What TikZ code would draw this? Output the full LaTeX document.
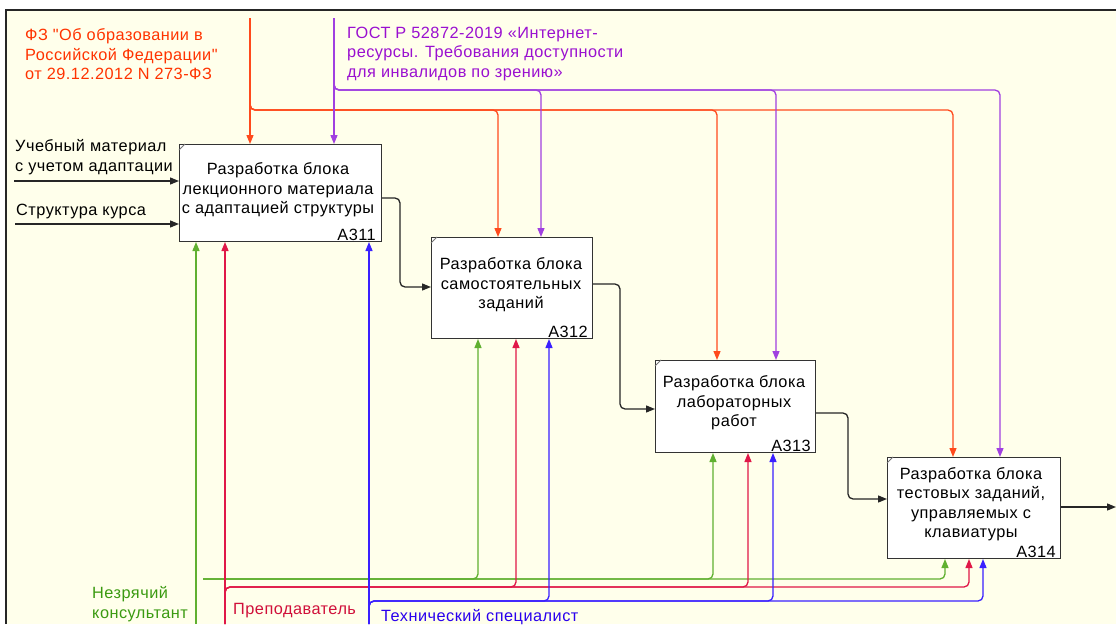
\documentclass[tikz,border=0pt]{standalone}
\usepackage{fontspec}
\newfontfamily\diagfont{Liberation Sans}[LetterSpace=3]
\usetikzlibrary{arrows.meta,calc}

\definecolor{paper}{HTML}{FFFFEB}
\definecolor{fzLine}{HTML}{FF4A1C}
\definecolor{fzText}{HTML}{FF3300}
\definecolor{gostLine}{HTML}{A040E0}
\definecolor{gostText}{HTML}{9A10D0}
\definecolor{grLine}{HTML}{60B030}
\definecolor{grText}{HTML}{3A9A10}
\definecolor{rdLine}{HTML}{E01848}
\definecolor{rdText}{HTML}{D0103A}
\definecolor{blLine}{HTML}{3A20FF}
\definecolor{blText}{HTML}{2A00EE}

\tikzset{
  arr/.style={-{Triangle[length=9pt,width=7pt]}},
  wire/.style={line width=1.3pt, rounded corners=5pt, arr},
  flow/.style={wire, draw=black!85},
  fzw/.style={wire, draw=fzLine},
  gostw/.style={wire, draw=gostLine},
  grw/.style={wire, draw=grLine},
  rdw/.style={wire, draw=rdLine},
  blw/.style={wire, draw=blLine},
  txt/.style={inner sep=0pt, font=\diagfont\fontsize{16.3}{19.5}\selectfont},
  actbox/.style={draw=black!80, fill=white, line width=1pt, anchor=north west, inner sep=0pt},
  boxtext/.style={txt, align=center},
  boxid/.style={txt, anchor=base east},
  cornertick/.style={draw=black!55, line width=0.8pt},
}

\begin{document}
\begin{tikzpicture}[x=1pt,y=-1pt]
  % sheet and frame
  \fill[white] (0,0) rectangle (1116,624);
  \useasboundingbox (0,0) rectangle (1116,624);
  \fill[paper] (6,10) rectangle (1116,624);
  \draw[black!85, line width=2pt] (6,624) -- (6,10) -- (1116,10);

  % activity boxes
  \node[actbox, minimum width=202pt, minimum height=97pt] (a1) at (179,144) {};
  \node[actbox, minimum width=161pt, minimum height=101pt] (a2) at (431,237) {};
  \node[actbox, minimum width=160pt, minimum height=92pt]  (a3) at (655,360) {};
  \node[actbox, minimum width=173pt, minimum height=101pt] (a4) at (887,457) {};

  \foreach \b in {a1,a2,a3,a4}
    \draw[cornertick] ($(\b.north west)+(0,6)$) -- ($(\b.north west)+(6,0)$);

  \node[boxtext] (t1) at (278,190) {Разработка блока\\лекционного материала\\с адаптацией структуры};
  \node[boxtext] (t2) at (511,285) {Разработка блока\\самостоятельных\\заданий};
  \node[boxtext] (t3) at (734,403) {Разработка блока\\лабораторных\\работ};
  \node[boxtext] (t4) at (971,504) {Разработка блока\\тестовых заданий,\\управляемых с\\клавиатуры};

  \node[boxid] (i1) at ($(a1.south east)+(-6,-1.5)$) {А311};
  \node[boxid] (i2) at ($(a2.south east)+(-5,-1.5)$) {А312};
  \node[boxid] (i3) at ($(a3.south east)+(-5,-1.5)$) {А313};
  \node[boxid] (i4) at ($(a4.south east)+(-5,-1.5)$) {А314};

  % free ends of the arrows
  \coordinate (inA) at (14,181);
  \coordinate (inB) at (15,224);
  \coordinate (fzTop) at (250,18);
  \coordinate (fzJoin) at (250,110);
  \coordinate (gostTop) at (334,18);
  \coordinate (gostJoin) at (334,90);
  \coordinate (grBot) at (196,624);
  \coordinate (grStart) at (203,579);
  \coordinate (rdBot) at (225,624);
  \coordinate (rdJoin) at (225,587);
  \coordinate (blBot) at (369,624);
  \coordinate (blJoin) at (369,601);
  \coordinate (outEnd) at (1116,507);

  % labels
  \node[txt, text=fzText, align=left, anchor=north west] (fzLbl) at (25,28.5)
    {ФЗ "Об образовании в\\Российской Федерации"\\от 29.12.2012 N 273-ФЗ};
  \node[txt, text=gostText, align=left, anchor=north west] (gostLbl) at (347,26.5)
    {ГОСТ Р 52872-2019 «Интернет-\\ресурсы. Требования доступности\\для инвалидов по зрению»};
  \node[txt, align=left, anchor=north west] (inALbl) at (15,139.5)
    {Учебный материал\\с учетом адаптации};
  \node[txt, anchor=base west] (inBLbl) at (16,215.5) {Структура курса};
  \node[txt, text=grText, align=left, anchor=north west] (grLbl) at (92,586.5)
    {Незрячий\\консультант};
  \node[txt, text=rdText, anchor=base west] (rdLbl) at (233,614.5) {Преподаватель};
  \node[txt, text=blText, anchor=base west] (blLbl) at (381,621.5) {Технический специалист};

  % inputs
  \draw[flow] (inA) -- (inA -| a1.west);
  \draw[flow] (inB) -- (inB -| a1.west);

  % outputs chained into the next activity
  \draw[flow] (a1.east |- 0,198) -- (400,198) -- (400,287) -- (a2.west |- 0,287);
  \draw[flow] (a2.east |- 0,284) -- (620,284) -- (620,409) -- (a3.west |- 0,409);
  \draw[flow] (a3.east |- 0,413) -- (848,413) -- (848,499) -- (a4.west |- 0,499);
  \draw[flow] (a4.east |- outEnd) -- (outEnd);

  % controls: federal law
  \draw[fzw] (fzTop) -- (fzTop |- a1.north);
  \foreach \x/\b in {498/a2,717/a3,953/a4}
    \draw[fzw] (fzTop) -- (fzJoin) -- (\x,110) -- (\x,0 |- \b.north);

  % controls: accessibility standard
  \draw[gostw] (gostTop) -- (gostTop |- a1.north);
  \foreach \x/\b in {541/a2,776/a3,1000/a4}
    \draw[gostw] (gostTop) -- (gostJoin) -- (\x,90) -- (\x,0 |- \b.north);

  % mechanisms: blind consultant
  \draw[grw] (grBot) -- (grBot |- a1.south);
  \foreach \x/\b in {478/a2,713/a3,945/a4}
    \draw[grw] (grStart) -- (\x,579) -- (\x,0 |- \b.south);

  % mechanisms: teacher
  \draw[rdw] (rdBot) -- (rdBot |- a1.south);
  \foreach \x/\b in {516/a2,748/a3,969/a4}
    \draw[rdw] (rdBot) -- (rdJoin) -- (\x,587) -- (\x,0 |- \b.south);

  % mechanisms: technical specialist
  \draw[blw] (blBot) -- (blBot |- a1.south);
  \foreach \x/\b in {549/a2,773/a3,983/a4}
    \draw[blw] (blBot) -- (blJoin) -- (\x,601) -- (\x,0 |- \b.south);
\end{tikzpicture}
\end{document}
